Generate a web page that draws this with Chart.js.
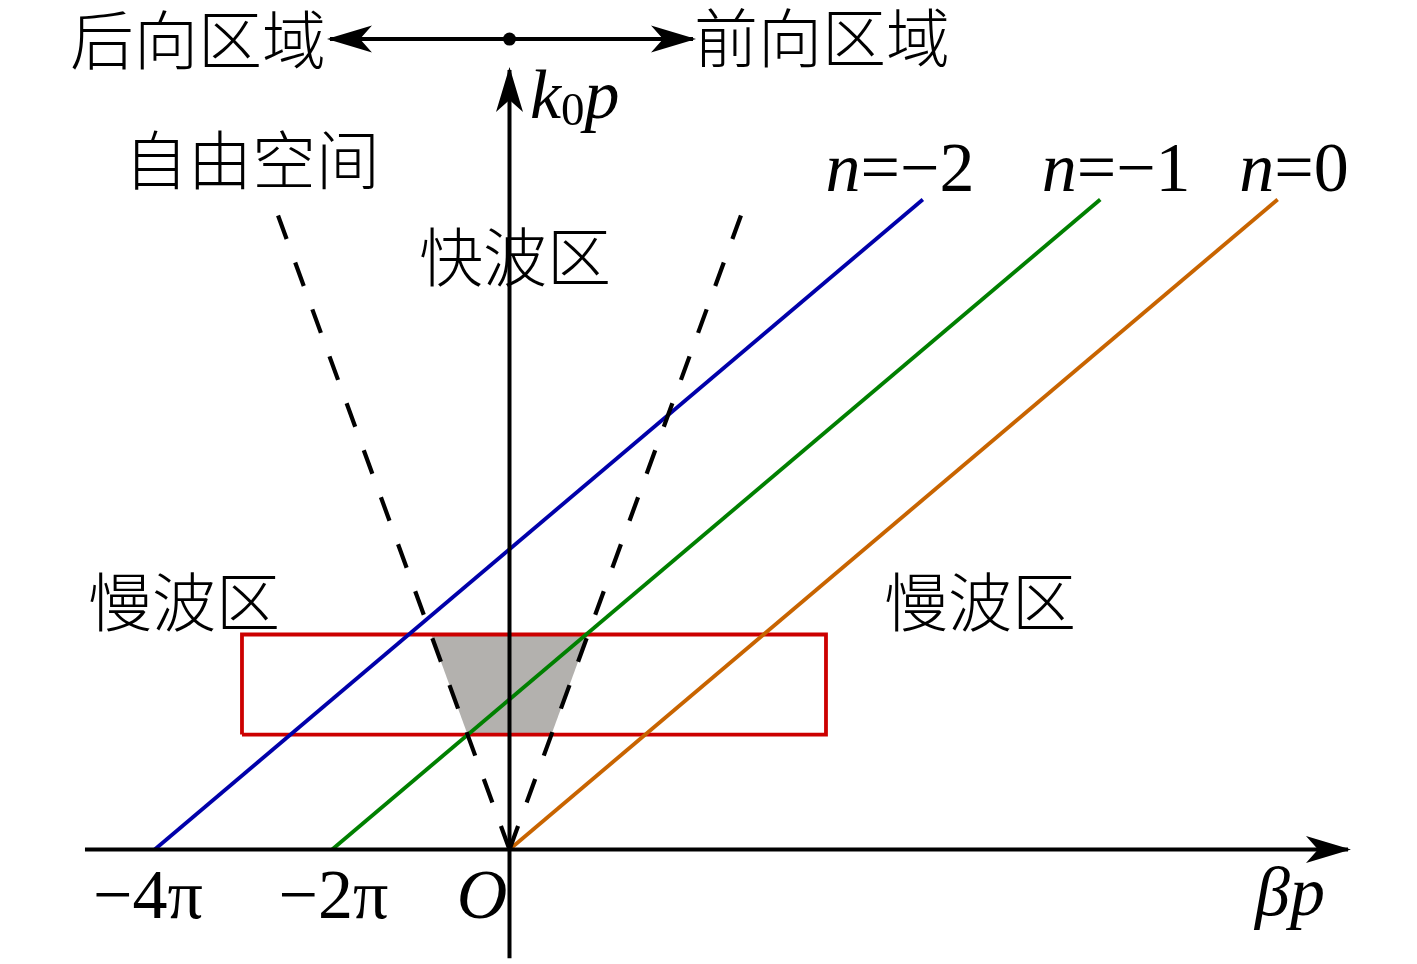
<!DOCTYPE html>
<html><head><meta charset="utf-8">
<script src="https://cdn.jsdelivr.net/npm/chart.js@4.4.1/dist/chart.umd.min.js"></script>
<style>html,body{margin:0;padding:0;background:#fff;overflow:hidden}canvas{display:block}</style>
</head><body><canvas id="c" width="1417" height="964"></canvas>
<script>
// units: x = βp/π , y = k0p/π
const harmonicN = [-2, -1, 0];
const harmonicColors = ['#0000aa', '#008000', '#c86400'];
const harmonicStartX = [-4, -2, 0];
const harmonicStartY = [0, 0, 0];
const harmonicEndX = [4.66, 6.66, 8.66];
const harmonicEndY = [2.675, 2.675, 2.675];
const harmonicLabelX = [4.402, 6.839, 8.844];
const harmonicLabelY = 2.710;

const lightLeftX = [0, -2.68], lightLeftY = [0, 2.68];
const lightRightX = [0, 2.68], lightRightY = [0, 2.68];

const bandX = [-3.016, 3.568];
const bandY = [0.473, 0.885];
const fastX = [-0.885, 0.885, 0.473, -0.473];
const fastY = [0.885, 0.885, 0.473, 0.473];

const axisXRange = [-4.786, 9.453];
const axisYRange = [-0.447, 3.208];
const directionX = [-2.024, 0, 2.069];
const directionY = 3.335;

const tickLabels = ['−4π', '−2π'];
const tickX = [-4.076, -1.984];
const tickY = -0.282;
const originX = -0.310;

const regionLabels = ['后向区域', '前向区域', '自由空间', '快波区', '慢波区', '慢波区'];
const regionX = [-3.512, 3.523, -2.903, 0.062, -3.670, 5.304];
const regionY = [3.331, 3.340, 2.838, 2.438, 1.019, 1.019];

const kLabelX = 0.231, kLabelY = 3.010;
const betaLabelX = 8.799, betaLabelY = -0.270;

const datasets = [];
const base = {showLine: true, pointRadius: 0, fill: false, borderCapStyle: 'butt', borderJoinStyle: 'miter'};
// axes (top-most)
datasets.push({...base, data: [{x: axisXRange[0], y: 0}, {x: axisXRange[1], y: 0}], borderColor: '#000', borderWidth: 4});
datasets.push({...base, data: [{x: 0, y: axisYRange[0]}, {x: 0, y: axisYRange[1]}], borderColor: '#000', borderWidth: 4});
datasets.push({...base, data: [{x: directionX[0], y: directionY}, {x: directionX[2], y: directionY}], borderColor: '#000', borderWidth: 4});
datasets.push({showLine: false, data: [{x: directionX[1], y: directionY}], pointRadius: 6.5, backgroundColor: '#000', borderColor: '#000', borderWidth: 0});
// light lines
datasets.push({...base, data: lightLeftX.map((v, i) => ({x: v, y: lightLeftY[i]})), borderColor: '#000', borderWidth: 4.2, borderDash: [25, 25]});
datasets.push({...base, data: lightRightX.map((v, i) => ({x: v, y: lightRightY[i]})), borderColor: '#000', borderWidth: 4.2, borderDash: [25, 25]});
// harmonics
harmonicN.forEach((n, i) => {
  datasets.push({...base, data: [{x: harmonicStartX[i], y: harmonicStartY[i]}, {x: harmonicEndX[i], y: harmonicEndY[i]}], borderColor: harmonicColors[i], borderWidth: 3.8});
});
// red band rectangle
datasets.push({...base, data: [
  {x: bandX[0], y: bandY[0]}, {x: bandX[1], y: bandY[0]}, {x: bandX[1], y: bandY[1]}, {x: bandX[0], y: bandY[1]}, {x: bandX[0], y: bandY[0]}
], borderColor: '#cc0000', borderWidth: 3.8});
// fast wave region fill
datasets.push({...base, data: fastX.map((v, i) => ({x: v, y: fastY[i]})).concat([{x: fastX[0], y: fastY[0]}]),
  borderColor: 'rgba(0,0,0,0)', borderWidth: 0.01, backgroundColor: '#b3b1ae', fill: 'shape'});

function arrow(ctx, tx, ty, dx, dy) {
  const L = 45, W = 13.5, inset = 12, ext = 3;
  tx += dx * ext; ty += dy * ext;
  const nx = -dy, ny = dx;
  ctx.beginPath();
  ctx.moveTo(tx, ty);
  ctx.lineTo(tx - dx * L + nx * W, ty - dy * L + ny * W);
  ctx.lineTo(tx - dx * (L - inset), ty - dy * (L - inset));
  ctx.lineTo(tx - dx * L - nx * W, ty - dy * L - ny * W);
  ctx.closePath();
  ctx.fill();
}
function runs(ctx, parts, x, yb, align) {
  let w = 0;
  parts.forEach(p => { ctx.font = p.f; p.w = ctx.measureText(p.t).width; w += p.w; });
  let cx = align === 'left' ? x : x - w / 2;
  ctx.textAlign = 'left';
  ctx.textBaseline = 'alphabetic';
  parts.forEach(p => { ctx.font = p.f; ctx.fillText(p.t, cx, yb + (p.dy || 0)); cx += p.w; });
}
const MI = 'italic 70px "Liberation Serif"';
const MR = '70px "Liberation Serif"';
const SUB = '47px "Liberation Serif"';
const CJK = '300 64px "Noto Sans CJK SC"';

const overlay = {
  id: 'overlay',
  afterDatasetsDraw(chart) {
    const {ctx, scales: {x, y}} = chart;
    const px = v => x.getPixelForValue(v), py = v => y.getPixelForValue(v);
    ctx.save();
    ctx.fillStyle = '#000';
    arrow(ctx, px(axisXRange[1]), py(0), 1, 0);
    arrow(ctx, px(0), py(axisYRange[1]), 0, -1);
    arrow(ctx, px(directionX[0]), py(directionY), -1, 0);
    arrow(ctx, px(directionX[2]), py(directionY), 1, 0);

    ctx.font = CJK;
    ctx.textAlign = 'center';
    ctx.textBaseline = 'middle';
    regionLabels.forEach((t, i) => ctx.fillText(t, px(regionX[i]), py(regionY[i])));

    harmonicN.forEach((n, i) => {
      const num = n < 0 ? '−' + Math.abs(n) : String(n);
      runs(ctx, [{t: 'n', f: MI}, {t: '=' + num, f: MR}], px(harmonicLabelX[i]), py(harmonicLabelY));
    });
    tickLabels.forEach((t, i) => runs(ctx, [{t: t, f: MR}], px(tickX[i]), py(tickY)));
    runs(ctx, [{t: 'O', f: MI}], px(originX), py(tickY));
    runs(ctx, [{t: 'k', f: MI}, {t: '0', f: SUB, dy: 7}, {t: 'p', f: MI}], px(kLabelX), py(kLabelY), 'left');
    runs(ctx, [{t: 'β', f: MI}, {t: 'p', f: MI}], px(betaLabelX), py(betaLabelY));
    ctx.restore();
  }
};

new Chart(document.getElementById('c').getContext('2d'), {
  type: 'scatter',
  data: {datasets},
  options: {
    responsive: false,
    devicePixelRatio: 1,
    animation: false,
    events: [],
    layout: {padding: 0, autoPadding: false},
    plugins: {legend: {display: false}, tooltip: {enabled: false}},
    scales: {
      x: {type: 'linear', display: false, min: -5.744, max: 10.231},
      y: {type: 'linear', display: false, min: -0.471, max: 3.496}
    }
  },
  plugins: [overlay]
});
</script>
</body></html>
